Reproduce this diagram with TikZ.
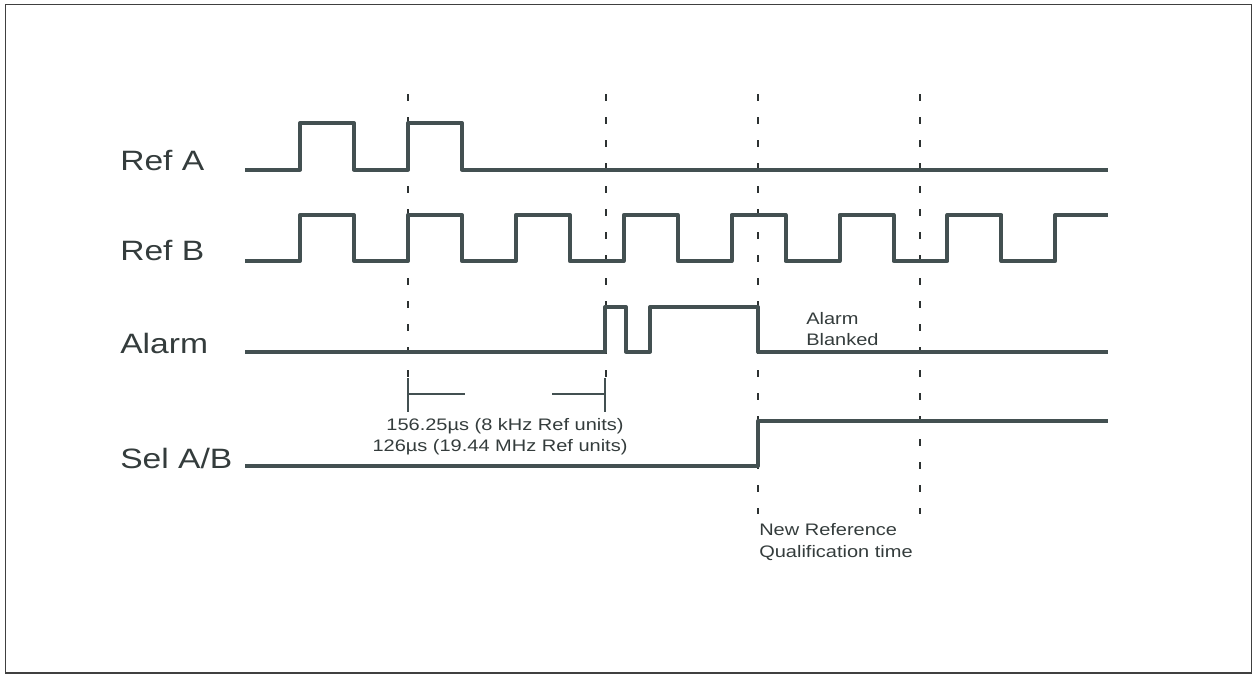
\documentclass[tikz,border=0pt]{standalone}
\usepackage{fontspec}
\setmainfont{Liberation Sans}[FakeStretch=1.2]
\definecolor{wave}{RGB}{67,80,81}
\definecolor{txt}{RGB}{52,60,60}
\definecolor{dash}{RGB}{45,50,50}
\begin{document}
\begin{tikzpicture}[x=0.75pt,y=-0.75pt,
  wavel/.style={draw=wave,line width=3pt,line join=round},
  guide/.style={draw=dash,line width=1.5pt,dash pattern=on 5.25pt off 12pt},
  dimline/.style={draw=wave,line width=2.2pt},
  biglabel/.style={anchor=base west,inner sep=0pt,text=txt,font=\fontsize{21}{25}\selectfont},
  smalllabel/.style={inner sep=0pt,text=txt,font=\fontsize{12.5}{15.5}\selectfont}]
\useasboundingbox (0,0) rectangle (1253,675);
\draw[draw=black!75,line width=1.3pt] (5.5,4.5) rectangle (1251.5,673);
% guides
\draw[guide] (408,94) -- (408,377);
\draw[guide] (606,94) -- (606,377);
\draw[guide] (758,94) -- (758,514);
\draw[guide] (920,94) -- (920,514);
% labels
\node[biglabel] (la) at (120,170.5) {Ref A};
\node[biglabel] (lb) at (120,260.5) {Ref B};
\node[biglabel] (lc) at (120,353) {Alarm};
\node[biglabel] (ld) at (120,468) {Sel A/B};
% Ref A
\draw[wavel] (245,169.5) -- (300,169.5) -- (300,123) -- (354,123) -- (354,169.5)
  -- (408,169.5) -- (408,123) -- (462,123) -- (462,169.5) -- (1108,169.5);
% Ref B
\draw[wavel] (245,261) -- (300,261) -- (300,215) -- (354,215) -- (354,261)
  -- (407.9,261) -- (407.9,215) -- (461.9,215) -- (461.9,261)
  -- (515.8,261) -- (515.8,215) -- (569.8,215) -- (569.8,261)
  -- (623.7,261) -- (623.7,215) -- (677.7,215) -- (677.7,261)
  -- (731.6,261) -- (731.6,215) -- (785.6,215) -- (785.6,261)
  -- (839.5,261) -- (839.5,215) -- (893.5,215) -- (893.5,261)
  -- (947.4,261) -- (947.4,215) -- (1001.4,215) -- (1001.4,261)
  -- (1055.3,261) -- (1055.3,215) -- (1108,215);
% Alarm
\draw[wavel] (245,351.5) -- (605,351.5) -- (605,307) -- (626,307) -- (626,351.5)
  -- (650,351.5) -- (650,307) -- (758,307) -- (758,351.5) -- (1108,351.5);
% Sel A/B
\draw[wavel] (245,466) -- (758,466) -- (758,421) -- (1108,421);
% dimension marks
\draw[dimline] (408,378) -- (408,412);
\draw[dimline] (408,394) -- (465,394);
\draw[dimline] (605,378) -- (605,412);
\draw[dimline] (552,394) -- (605,394);
\node[smalllabel,anchor=base] (t1) at (505,430) {156.25µs (8 kHz Ref units)};
\node[smalllabel,anchor=base] (t2) at (500,451) {126µs (19.44 MHz Ref units)};
\node[smalllabel,anchor=base west] (t3) at (806,324) {Alarm};
\node[smalllabel,anchor=base west] (t4) at (806,345) {Blanked};
\node[smalllabel,anchor=base west] (t5) at (759,535) {New Reference};
\node[smalllabel,anchor=base west] (t6) at (759,557) {Qualification time};
\end{tikzpicture}
\end{document}
